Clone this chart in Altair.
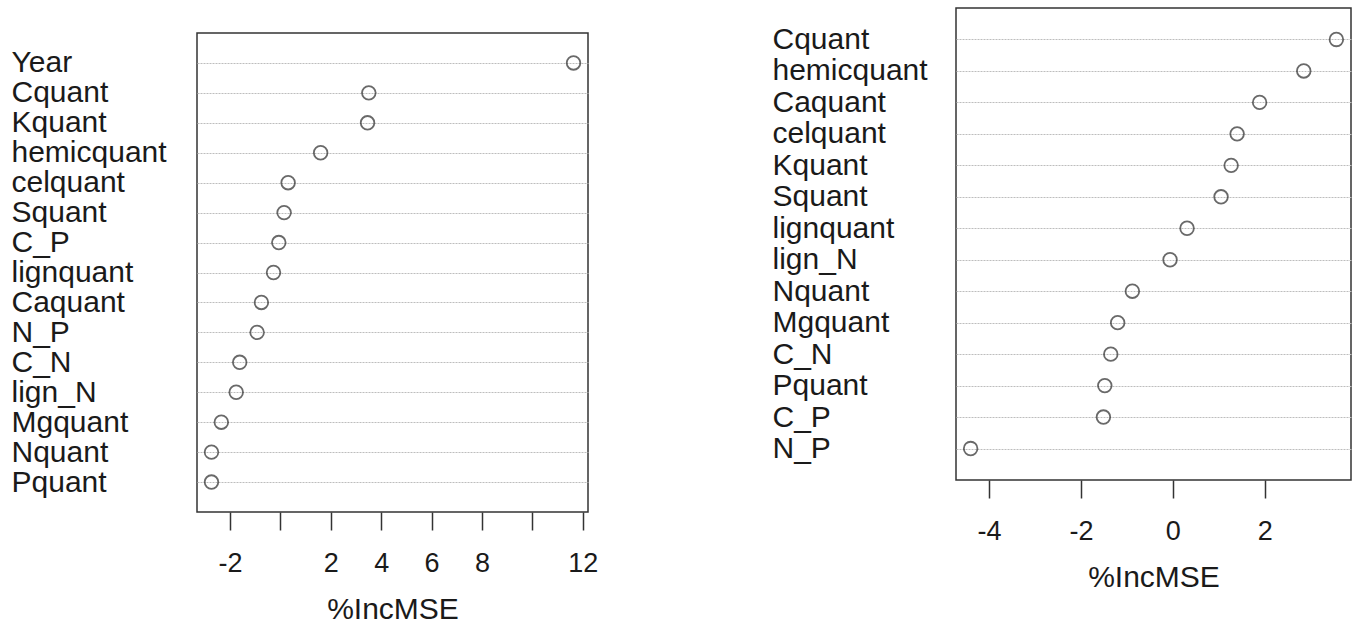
import altair as alt
import pandas as pd

# Variable importance (%IncMSE) for the two random-forest models
left_vars = ["Year", "Cquant", "Kquant", "hemicquant", "celquant", "Squant", "C_P",
             "lignquant", "Caquant", "N_P", "C_N", "lign_N", "Mgquant", "Nquant", "Pquant"]
left_vals = [11.63, 3.51, 3.46, 1.60, 0.31, 0.15, -0.06, -0.27, -0.75, -0.92,
             -1.61, -1.75, -2.34, -2.73, -2.73]

right_vars = ["Cquant", "hemicquant", "Caquant", "celquant", "Kquant", "Squant",
              "lignquant", "lign_N", "Nquant", "Mgquant", "C_N", "Pquant", "C_P", "N_P"]
right_vals = [3.56, 2.85, 1.89, 1.40, 1.27, 1.05, 0.31, -0.06, -0.88, -1.20,
              -1.35, -1.48, -1.51, -4.40]

left_ticks = [-2, 0, 2, 4, 6, 8, 10, 12]
right_ticks = [-4, -2, 0, 2]

FONT = "Liberation Sans"
INK = "#1a1a1a"


def dotchart(names, values, ticks, hidden, width, height, label_pad):
    df = pd.DataFrame({"var": names, "imp": values})
    lo, hi = min(values), max(values)
    pad = (hi - lo) * 0.04
    if hidden:
        cond = " || ".join(f"datum.value == {h}" for h in hidden)
        expr = f"({cond}) ? '' : toString(datum.value)"
    else:
        expr = "toString(datum.value)"
    return alt.Chart(df).mark_point(
        shape="circle", filled=False, size=185, stroke="#2a2a2a", strokeWidth=1.8
    ).encode(
        x=alt.X("imp:Q",
                scale=alt.Scale(domain=[lo - pad, hi + pad], nice=False, zero=False),
                axis=alt.Axis(values=ticks, labelExpr=expr, title="%IncMSE",
                              grid=False, domain=False, tickSize=18, tickColor="#333333",
                              tickWidth=1.5, labelFontSize=27, labelFont=FONT,
                              labelColor=INK, labelPadding=20, titleFontSize=30,
                              titleFont=FONT, titleColor=INK, titleFontWeight="normal",
                              titlePadding=18, labelFlush=False)),
        y=alt.Y("var:N", sort=names,
                scale=alt.Scale(type="point", padding=1),
                axis=alt.Axis(title=None, labelAlign="left", labelPadding=label_pad,
                              ticks=False, domain=False, grid=True,
                              gridColor="#bdbdbd", gridDash=[2, 1], gridWidth=1,
                              labelFontSize=30, labelFont=FONT, labelColor=INK,
                              labelLimit=0)),
    ).properties(width=width, height=height)


left = dotchart(left_vars, left_vals, left_ticks, [0, 10], 391, 479, 186)
right = dotchart(right_vars, right_vals, right_ticks, [], 395, 472, 184)

# blank strip that drops the first panel lower than the second
spacer = alt.Chart(pd.DataFrame({"a": [0]})).mark_point(opacity=0).encode(
    x=alt.X("a:Q", axis=None), y=alt.Y("a:Q", axis=None)
).properties(width=391, height=6, view=alt.ViewConfig(strokeOpacity=0))

left_col = alt.vconcat(spacer, left, spacing=18)

chart = alt.hconcat(left_col, right, spacing=172).properties(
    padding={"left": 10, "top": 7, "right": 0, "bottom": 0},
    background="white",
).configure_view(
    stroke="#333333", strokeWidth=1.5
)

chart.save("out.html", embed_options={"renderer": "svg", "actions": False})
